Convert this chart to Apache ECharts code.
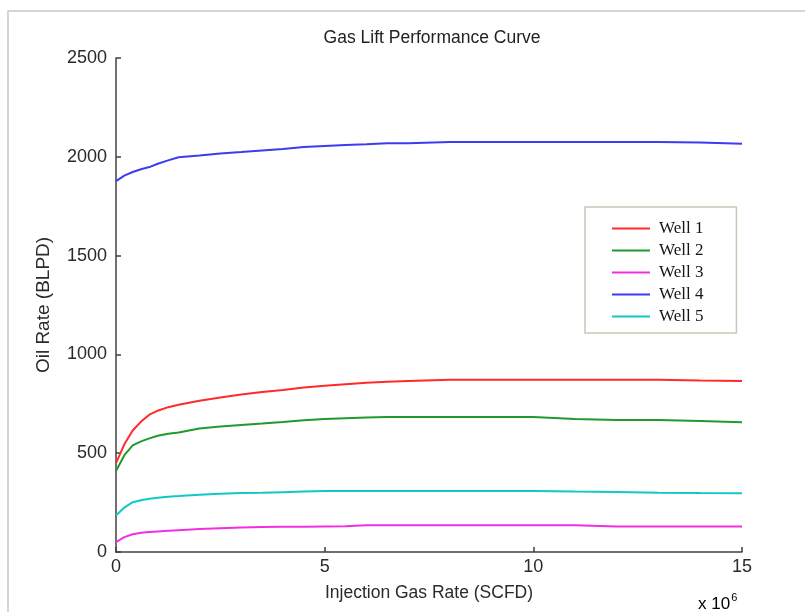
<!DOCTYPE html>
<html>
<head>
<meta charset="utf-8">
<script src="https://cdn.jsdelivr.net/npm/echarts@6/dist/echarts.min.js"></script>
<style>
  html, body { margin: 0; padding: 0; background: #fff; }
  #chart { width: 805px; height: 612px; }
</style>
</head>
<body>
<div id="chart"></div>
<script>
// injection gas rate, x 10^6 SCFD
const gasRate = [0, 0.2, 0.4, 0.6, 0.8, 1, 1.25, 1.5, 2, 2.5, 3, 3.5, 4, 4.5, 5, 5.5, 6, 6.5, 7, 8, 9, 10, 11, 12, 13, 14, 15];
// oil rate, BLPD
const well1 = [450, 545, 615, 660, 695, 715, 733, 745, 765, 782, 797, 810, 820, 832, 841, 849, 857, 862, 866, 872, 872, 872, 872, 872, 872, 868, 865];
const well2 = [410, 490, 540, 560, 575, 588, 598, 605, 625, 635, 643, 650, 658, 667, 673, 677, 681, 683, 683, 683, 683, 683, 673, 668, 668, 663, 657];
const well3 = [50, 75, 90, 97, 101, 104, 107, 110, 116, 120, 124, 126, 128, 128, 129, 130, 135, 135, 135, 135, 135, 135, 135, 129, 129, 129, 129];
const well4 = [1877, 1905, 1923, 1937, 1948, 1965, 1982, 1998, 2007, 2017, 2024, 2032, 2040, 2050, 2055, 2060, 2063, 2068, 2068, 2075, 2075, 2075, 2075, 2075, 2075, 2072, 2066];
const well5 = [185, 225, 252, 262, 270, 275, 280, 283, 290, 295, 298, 300, 303, 306, 309, 309, 309, 309, 309, 309, 309, 309, 306, 304, 300, 298, 297];

const wellNames = ['Well 1', 'Well 2', 'Well 3', 'Well 4', 'Well 5'];
const wellData = [well1, well2, well3, well4, well5];
const wellColors = ['#ff2a2a', '#1f9a30', '#f030e0', '#3c3cf0', '#10c8c8'];

const chart = echarts.init(document.getElementById('chart'));

const axisLine = { show: true, lineStyle: { color: '#404040', width: 1.5 } };
const axisTick = { show: true, inside: true, length: 5, lineStyle: { color: '#404040', width: 1.5 } };
const tickFont = { color: '#2a2a2a', fontFamily: 'Liberation Sans', fontSize: 18, formatter: v => String(v) };

chart.setOption({
  animation: false,
  backgroundColor: '#fff',
  title: {
    text: 'Gas Lift Performance Curve',
    left: 427,
    top: 24,
    textAlign: 'center',
    textStyle: { fontFamily: 'Liberation Sans', fontWeight: 'normal', fontSize: 17.5, color: '#222' }
  },
  grid: { left: 116, right: 63, top: 58, bottom: 60 },
  legend: {
    orient: 'vertical',
    left: 585,
    top: 207,
    padding: [13, 33, 8, 27],
    itemGap: 5,
    itemWidth: 38,
    itemHeight: 2,
    icon: 'rect',
    borderColor: '#c8c8b8',
    borderWidth: 1.5,
    backgroundColor: '#fff',
    textStyle: { fontFamily: 'Liberation Serif', fontSize: 17, lineHeight: 16, color: '#151515', padding: [0, 0, 0, 4] },
    data: wellNames
  },
  xAxis: {
    type: 'value',
    min: 0,
    max: 15,
    interval: 5,
    name: 'Injection Gas Rate (SCFD)',
    nameLocation: 'middle',
    nameGap: 32,
    nameTextStyle: { fontFamily: 'Liberation Sans', fontSize: 17.5, color: '#2a2a2a' },
    axisLine: axisLine,
    axisTick: axisTick,
    axisLabel: Object.assign({ margin: 6 }, tickFont),
    splitLine: { show: false }
  },
  yAxis: {
    type: 'value',
    min: 0,
    max: 2500,
    interval: 500,
    name: 'Oil Rate (BLPD)',
    nameLocation: 'middle',
    nameGap: 63,
    nameTextStyle: { fontFamily: 'Liberation Sans', fontSize: 19, color: '#2a2a2a' },
    axisLine: axisLine,
    axisTick: axisTick,
    axisLabel: Object.assign({ margin: 9 }, tickFont),
    splitLine: { show: false }
  },
  graphic: [
    {
      type: 'rect',
      shape: { x: 8, y: 11, width: 900, height: 700 },
      style: { fill: 'none', stroke: '#c8c8c8', lineWidth: 1.5 },
      silent: true
    },
    {
      type: 'text',
      left: 698,
      top: 592,
      style: {
        text: '{a|x 10}{b|6}',
        rich: {
          a: { fontFamily: 'Liberation Sans', fontSize: 17, color: '#2a2a2a', verticalAlign: 'bottom' },
          b: { fontFamily: 'Liberation Sans', fontSize: 11, color: '#2a2a2a', verticalAlign: 'top', padding: [0, 0, 10, 1] }
        }
      }
    }
  ],
  series: wellNames.map((name, i) => ({
    name: name,
    type: 'line',
    symbol: 'none',
    data: gasRate.map((x, j) => [x, wellData[i][j]]),
    lineStyle: { color: wellColors[i], width: 2 },
    itemStyle: { color: wellColors[i] }
  }))
});
</script>
</body>
</html>
